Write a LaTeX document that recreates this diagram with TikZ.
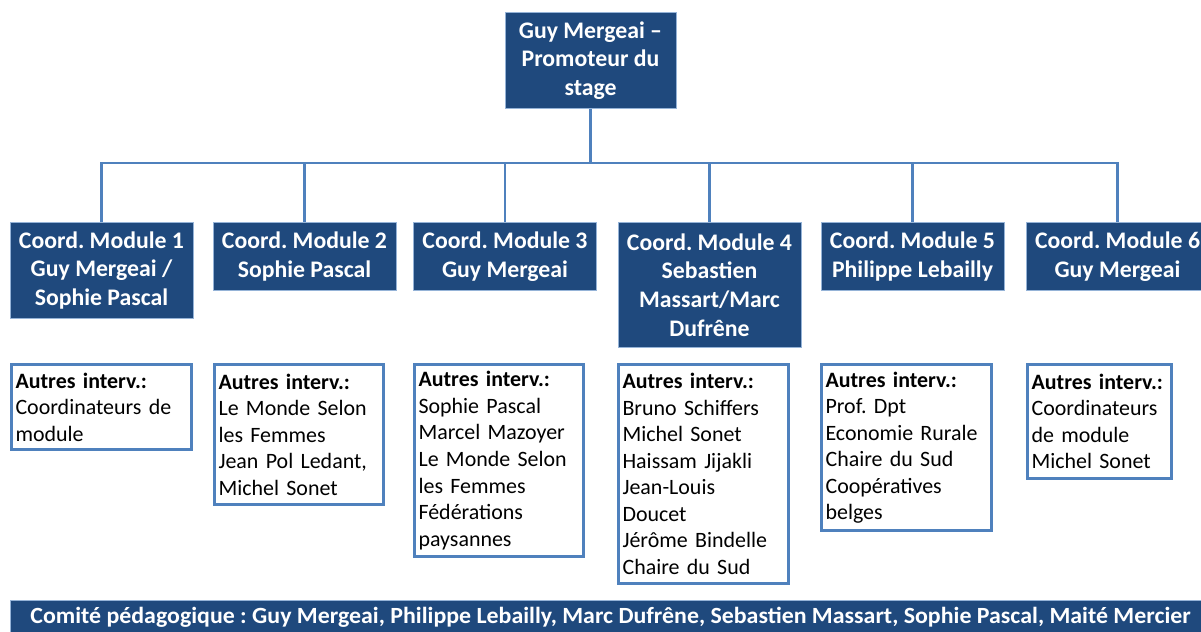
\documentclass[tikz,border=0pt]{standalone}
\usepackage{fontspec}
\setmainfont{Carlito}
\frenchspacing
\definecolor{BoxColor}{RGB}{31,73,125}
\definecolor{LineColor}{RGB}{79,129,189}
\newcommand{\autres}{\textbf{Autres interv.:}}
\tikzstyle{base}=[rectangle,
                    inner sep=0pt]
\tikzstyle{coord}=[base,
                    draw=LineColor!60!white,
                    line width=0.6pt,
                    fill=BoxColor,
                    text=white,
                    font=\bfseries\fontsize{16.9}{20.3}\selectfont,
                    align=center,
                    anchor=north,
                    minimum width=4.575cm]
\tikzstyle{interv}=[base,
                    draw=LineColor,
                    line width=2.2pt,
                    fill=white,
                    font=\fontsize{15.6}{18.85}\selectfont,
                    align=left,
                    anchor=north west,
                    inner xsep=0.1cm]
\tikzstyle{connector}=[draw=LineColor, line width=1.6pt]

\begin{document}
\begin{tikzpicture}[x=0.025cm, y=-0.025cm]
    \clip (0,0) rectangle (1201,631);

      \node at (590.5,  12) (promoteur) [coord, minimum width=4.275cm, minimum height=2.4cm] {\rule{0pt}{10pt}Guy Mergeai --\\Promoteur du\\stage};

      \node at (101.5, 222) (coord_m1)  [coord, minimum height=2.4cm]   {Coord. Module 1\\Guy Mergeai /\\Sophie Pascal};
      \node at (304.5, 222) (coord_m2)  [coord, minimum height=1.7cm]   {Coord. Module 2\\Sophie Pascal};
      \node at (505.0, 222) (coord_m3)  [coord, minimum height=1.7cm]   {Coord. Module 3\\Guy Mergeai};
      \node at (709.5, 222) (coord_m4)  [coord, minimum height=3.125cm] {Coord. Module 4\\Sebastien\\Massart/Marc\\Dufrêne};
      \node at (912.5, 222) (coord_m5)  [coord, minimum height=1.7cm]   {Coord. Module 5\\Philippe Lebailly};
      \node at (1117.5,222) (coord_m6)  [coord, minimum height=1.7cm]   {Coord. Module 6\\Guy Mergeai};

      \node at (10,   363) (interv_m1) [interv, text width=4.3cm,   minimum height=2.125cm] {\autres\\Coordinateurs de\\module};
      \node at (213,  363) (interv_m2) [interv, text width=4.025cm, minimum height=3.5cm]   {\autres\\Le Monde Selon\\les Femmes\\Jean Pol Ledant,\\Michel Sonet};
      \node at (413,  363) (interv_m3) [interv, text width=4.025cm, minimum height=4.8cm]   {\autres\\Sophie Pascal\\Marcel Mazoyer\\Le Monde Selon\\les Femmes\\Fédérations\\paysannes};
      \node at (617,  363) (interv_m4) [interv, text width=4.05cm,  minimum height=5.475cm] {\autres\\Bruno Schiffers\\Michel Sonet\\Haissam Jijakli\\Jean-Louis\\Doucet\\Jérôme Bindelle\\Chaire du Sud};
      \node at (820,  363) (interv_m5) [interv, text width=4.05cm,  minimum height=4.15cm]  {\autres\\Prof. Dpt\\Economie Rurale\\Chaire du Sud\\Coopératives\\belges};
      \node at (1026, 363) (interv_m6) [interv, text width=3.4cm,   minimum height=2.85cm]  {\autres\\Coordinateurs\\de module\\Michel Sonet};

      \node at (10,   600) (comite)    [coord, anchor=north west, minimum width=30cm, minimum height=0.85cm]
            {\resizebox{29cm}{\height}{\fontsize{16.5}{19}\selectfont Comité pédagogique : Guy Mergeai, Philippe Lebailly, Marc Dufrêne, Sebastien Massart, Sophie Pascal, Maité Mercier}};

      \coordinate (bus) at (590.5, 163);
      \draw[connector] (promoteur) -- (bus);
      \draw[connector] (bus) -| (coord_m1);
      \draw[connector] (bus) -| (coord_m2);
      \draw[connector] (bus) -| (coord_m3);
      \draw[connector] (bus) -| (coord_m4);
      \draw[connector] (bus) -| (coord_m5);
      \draw[connector] (bus) -| (coord_m6);
  \end{tikzpicture}
\end{document}
